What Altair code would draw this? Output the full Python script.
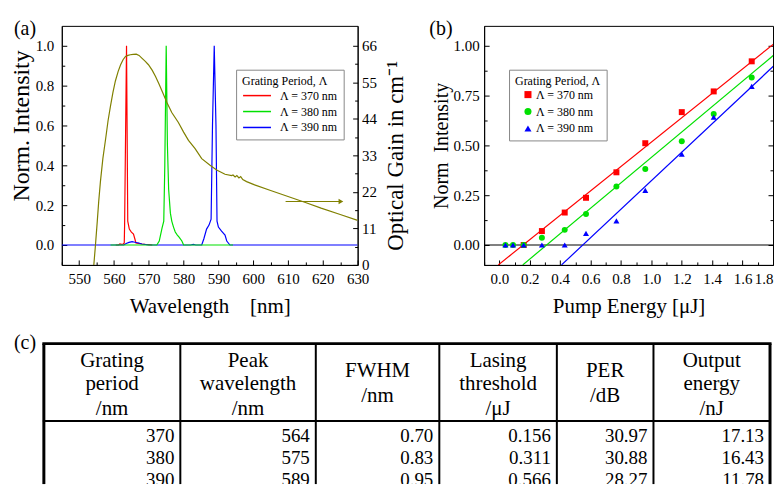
import altair as alt
import pandas as pd

FONT = "Liberation Serif"
PANEL_LABELS = ["(a)", "(b)", "(c)"]
SERIES = ["Λ = 370 nm", "Λ = 380 nm", "Λ = 390 nm"]
LINE_COLORS = ["#ff0000", "#00e000", "#0000ff"]
OLIVE = "#808000"
LEGEND_TITLE = "Grating Period, Λ"

# ---------------- panel (a): emission spectra (normalised) ----------------
red_wl = [560.5, 561.3, 561.7, 562.2, 562.6, 562.95, 563.05, 563.6, 563.95, 564.4,
          565.0, 565.6, 566.0, 566.3, 567.0, 568.0, 569.0, 570.0, 571.0]
red_int = [0, 0, 0.006, 0.003, 0.004, 0.01, 0.1, 1.0, 0.12, 0.08,
           0.065, 0.055, 0.03, 0.01, 0.008, 0.005, 0.003, 0.002, 0]

green_wl = [559, 572.3, 573.0, 573.8, 574.3, 574.6, 575.0, 575.35, 575.7, 576.2,
            576.6, 577.1, 577.6, 578.2, 578.7, 579.5, 580.0, 594.2]
green_int = [0, 0, 0.02, 0.085, 0.12, 0.4, 1.0, 0.5, 0.28, 0.16,
             0.12, 0.09, 0.065, 0.05, 0.04, 0.02, 0, 0]

blue_wl = [545, 562.8, 563.5, 564.3, 565.2, 566.0, 567.1, 568.0, 570.0, 582.0,
           582.8, 583.5, 585.2, 585.8, 586.6, 587.3, 587.9, 588.3, 588.8, 589.3,
           589.6, 590.0, 590.9, 591.9, 592.4, 593.3, 630]
blue_int = [0, 0, 0.008, 0.013, 0.017, 0.014, 0.01, 0.005, 0, 0,
            0.003, 0, 0, 0.03, 0.08, 0.1, 0.13, 0.6, 1.0, 0.6,
            0.12, 0.09, 0.07, 0.05, 0.02, 0, 0]

# optical gain (cm^-1), right axis
gain_wl = [554.2, 554.6, 555.2, 555.6, 556.1, 556.8, 557.6, 558.3, 559.0, 559.7,
           560.4, 561.2, 561.9, 562.6, 563.3, 564.0, 564.7, 565.5, 566.4, 567.2,
           568.0, 569.0, 569.9, 571.0, 571.9, 572.9, 573.8, 575.2, 576.6, 578.5,
           580.0, 581.4, 583.3, 585.2, 587.6, 589.5, 591.9, 593.8, 594.2, 594.8,
           595.3, 595.9, 596.4, 597.0, 598.1, 600.4, 605.0, 610.0, 615.0, 619.5,
           625.0, 630.0]
gain_val = [0, 5, 13.2, 19, 25.1, 32, 38, 43.5, 47.9, 52,
            55.4, 58.3, 60.3, 61.8, 62.8, 63.1, 63.3, 63.4, 63.5, 63.1,
            62.3, 61.3, 60.3, 58.6, 56.8, 54.6, 52.4, 48.9, 45.9, 42.9,
            40.0, 37.5, 35.0, 32.0, 30.0, 28.6, 27.3, 26.9, 27.1, 26.5,
            26.9, 26.2, 26.6, 25.7, 25.1, 24.1, 22.4, 20.6, 18.8, 17.1,
            15.2, 13.4]
arrow_wl = [609.3, 625.2]
arrow_gain = [19.1, 19.1]

# ---------------- panel (b): output vs pump energy ----------------
pump_red = [0.16, 0.28, 0.43, 0.57, 0.77, 0.96, 1.2, 1.41, 1.66]
int_red = [0.0, 0.07, 0.163, 0.237, 0.365, 0.511, 0.667, 0.771, 0.922]
pump_green = [0.04, 0.09, 0.16, 0.28, 0.43, 0.57, 0.77, 0.96, 1.2, 1.41, 1.66]
int_green = [0, 0, 0, 0.036, 0.076, 0.156, 0.294, 0.381, 0.521, 0.658, 0.841]
pump_blue = [0.04, 0.09, 0.16, 0.28, 0.43, 0.57, 0.77, 0.96, 1.2, 1.41, 1.66]
int_blue = [0, 0, 0, 0, 0, 0.058, 0.121, 0.274, 0.456, 0.642, 0.796]
fit_red_x, fit_red_y = [-0.007, 1.9], [-0.1, 1.068]
fit_green_x, fit_green_y = [0.154, 1.9], [-0.1, 1.014]
fit_blue_x, fit_blue_y = [0.409, 1.9], [-0.1, 0.967]

# ---------------- panel (c): table ----------------
header_lines = [["Grating", "period", "/nm"],
                ["Peak", "wavelength", "/nm"],
                ["FWHM", "/nm"],
                ["Lasing", "threshold", "/μJ"],
                ["PER", "/dB"],
                ["Output", "energy", "/nJ"]]
col_period = ["370", "380", "390"]
col_peak = ["564", "575", "589"]
col_fwhm = ["0.70", "0.83", "0.95"]
col_thresh = ["0.156", "0.311", "0.566"]
col_per = ["30.97", "30.88", "28.27"]
col_out = ["17.13", "16.43", "11.78"]

# ---------------- layout constants ----------------
W_A, H_A = 297, 240
W_B, H_B = 290, 240
W_T, H_T = 711, 152
COL_EDGES = [-18, 119, 255, 379, 497, 594, 711]   # relative to panel (a) plot left
TOP_Y, SEP_Y = 11, 88.7
ROW_Y = [104, 126, 148]
HEAD3_Y = [28, 51.7, 77]
HEAD2_Y = [38.3, 63.3]

one = pd.DataFrame({"x": [0.5], "y": [0.5], "g": [10.0], "wl": [580.0]})

# =============== panel (a) ===============
xa = alt.Scale(domain=[545, 630], nice=False, zero=False)
ya = alt.Scale(domain=[-0.1, 1.1], nice=False, zero=False)
yg = alt.Scale(domain=[0, 72], nice=False, zero=False)
color_a = alt.Scale(domain=SERIES, range=LINE_COLORS)

legend_a = alt.Legend(orient="none", legendX=175, legendY=44, title=LEGEND_TITLE,
                      titleFontSize=12, titleFontWeight="normal", labelFontSize=12,
                      titleFont=FONT, labelFont=FONT,
                      symbolType="M-2,0H2", symbolSize=196, symbolOffset=7,
                      labelOffset=15, symbolStrokeWidth=1.5, strokeColor="#888888",
                      fillColor="white", padding=6, rowPadding=2, titlePadding=0,
                      labelColor="black", titleColor="black")

AX = dict(labelFont=FONT, titleFont=FONT, labelColor="black", titleColor="black",
          titleFontWeight="normal", labelFontSize=15, labelOverlap=False)

x_axis_a = alt.Axis(orient="bottom", values=list(range(550, 631, 10)),
                    title="Wavelength\u00a0\u00a0\u00a0\u00a0[nm]", ticks=False, tickSize=0,
                    labelPadding=7, titlePadding=9, titleFontSize=21,
                    labelFlush=False, **AX)
y_axis_a = alt.Axis(orient="left", values=[0, 0.2, 0.4, 0.6, 0.8, 1.0], format=".1f",
                    ticks=False, tickSize=0, labelPadding=8, title="Norm. Intensity",
                    titleFontSize=24, titlePadding=2, titleY=100, **AX)
g_axis_a = alt.Axis(orient="right", values=[0, 11, 22, 33, 44, 55, 66], ticks=False,
                    tickSize=0, labelPadding=4, title="Optical Gain in cm⁻¹",
                    titleAngle=270, titleBaseline="top", titleFontSize=23,
                    titlePadding=8, titleY=130, **AX)


def spectrum(wl, it, name, first):
    df = pd.DataFrame({"wl": wl, "i": it, "series": name})
    return alt.Chart(df).mark_line(strokeWidth=1.2, clip=True).encode(
        x=alt.X("wl:Q", scale=xa, axis=x_axis_a if first else None),
        y=alt.Y("i:Q", scale=ya, axis=y_axis_a if first else None),
        color=alt.Color("series:N", scale=color_a, legend=legend_a if first else None),
    )


spec_red = spectrum(red_wl, red_int, SERIES[0], True)
spec_blue = spectrum(blue_wl, blue_int, SERIES[2], False)
spec_green = spectrum(green_wl, green_int, SERIES[1], False)

gain = alt.Chart(pd.DataFrame({"wl": gain_wl, "g": gain_val})).mark_line(
    color=OLIVE, strokeWidth=1.2, clip=True).encode(
    x=alt.X("wl:Q", scale=xa, axis=None),
    y=alt.Y("g:Q", scale=yg, axis=g_axis_a))

arrow_df = pd.DataFrame({"wl": arrow_wl, "g": arrow_gain})
arrow_line = alt.Chart(arrow_df).mark_line(color=OLIVE, strokeWidth=1.2).encode(
    x=alt.X("wl:Q", scale=xa, axis=None), y=alt.Y("g:Q", scale=yg, axis=None))
arrow_head = alt.Chart(arrow_df.iloc[[1]]).mark_point(
    shape="triangle-right", filled=True, size=30, color=OLIVE, opacity=1).encode(
    x=alt.X("wl:Q", scale=xa, axis=None), y=alt.Y("g:Q", scale=yg, axis=None))


def tick_axis(orient, offset, values, size):
    return alt.Axis(orient=orient, offset=offset, values=values, labels=False,
                    domain=False, ticks=True, tickSize=size, tickWidth=1,
                    tickColor="black", title=None)


def tick_layer(xenc, yenc):
    return alt.Chart(one).mark_point(opacity=0).encode(x=xenc, y=yenc)


ta1 = tick_layer(
    alt.X("wl:Q", scale=xa, axis=tick_axis("top", -H_A, list(range(550, 631, 10)), 5)),
    alt.Y("y:Q", scale=ya, axis=tick_axis("right", -W_A, [0, 0.2, 0.4, 0.6, 0.8, 1.0], 5)))
ta2 = tick_layer(
    alt.X("wl:Q", scale=xa, axis=tick_axis("top", -H_A, list(range(545, 630, 10)), 3)),
    alt.Y("y:Q", scale=ya, axis=tick_axis("right", -W_A, [0.1, 0.3, 0.5, 0.7, 0.9], 3)))
ta3 = tick_layer(
    alt.X("wl:Q", scale=xa, axis=None),
    alt.Y("g:Q", scale=yg, axis=tick_axis("left", -W_A, [0, 11, 22, 33, 44, 55, 66], 5)))
ta4 = tick_layer(
    alt.X("wl:Q", scale=xa, axis=None),
    alt.Y("g:Q", scale=yg, axis=tick_axis("left", -W_A, [5.5, 16.5, 27.5, 38.5, 49.5, 60.5], 3)))

label_a = alt.Chart(pd.DataFrame({"t": [PANEL_LABELS[0]]})).mark_text(
    align="left", baseline="top", fontSize=20, font=FONT, color="black").encode(
    text="t:N", x=alt.value(-48), y=alt.value(-7))

panel_a = alt.layer(
    spec_red, spec_blue, spec_green, gain, arrow_line, arrow_head, ta1, ta2, ta3, ta4, label_a
).resolve_scale(y="independent").resolve_axis(x="independent", y="independent").properties(
    width=W_A, height=H_A, view=alt.ViewBackground(stroke="black", strokeWidth=1))

# =============== panel (b) ===============
xb = alt.Scale(domain=[-0.1, 1.8], nice=False, zero=False)
yb = alt.Scale(domain=[-0.1, 1.1], nice=False, zero=False)
color_b = alt.Scale(domain=SERIES, range=LINE_COLORS)
shape_b = alt.Scale(domain=SERIES, range=["square", "circle", "triangle-up"])

legend_b = alt.Legend(orient="none", legendX=25, legendY=44, title=LEGEND_TITLE,
                      titleFontSize=12, titleFontWeight="normal", labelFontSize=12,
                      titleFont=FONT, labelFont=FONT,
                      symbolSize=50, symbolOffset=7, labelOffset=2, strokeColor="#888888",
                      fillColor="white", padding=6, rowPadding=5, titlePadding=1,
                      labelColor="black", titleColor="black")

x_axis_b = alt.Axis(orient="bottom", values=[0, 0.2, 0.4, 0.6, 0.8, 1.0, 1.2, 1.4, 1.6, 1.8],
                    format=".1f", title="Pump Energy [μJ]", ticks=False, tickSize=0,
                    labelPadding=7, titlePadding=9, titleFontSize=21,
                    labelFlush=True, **AX)
y_axis_b = alt.Axis(orient="left", values=[0, 0.25, 0.5, 0.75, 1.0], format=".2f",
                    ticks=False, tickSize=0, labelPadding=5, title="Norm\u00a0\u00a0Intensity",
                    titleFontSize=20, titlePadding=2, **AX)

pts = pd.concat([
    pd.DataFrame({"e": pump_red, "v": int_red, "series": SERIES[0]}),
    pd.DataFrame({"e": pump_green, "v": int_green, "series": SERIES[1]}),
    pd.DataFrame({"e": pump_blue, "v": int_blue, "series": SERIES[2]}),
], ignore_index=True)

zero_rule = alt.Chart(pd.DataFrame({"v": [0.0]})).mark_rule(color="black", strokeWidth=1).encode(
    y=alt.Y("v:Q", scale=yb, axis=None))


def fit_layer(xs, ys, colour):
    return alt.Chart(pd.DataFrame({"e": xs, "v": ys})).mark_line(
        strokeWidth=1.2, clip=True, color=colour).encode(
        x=alt.X("e:Q", scale=xb, axis=None), y=alt.Y("v:Q", scale=yb, axis=None))


fit_r = fit_layer(fit_red_x, fit_red_y, LINE_COLORS[0])
fit_g = fit_layer(fit_green_x, fit_green_y, LINE_COLORS[1])
fit_bl = fit_layer(fit_blue_x, fit_blue_y, LINE_COLORS[2])

points = alt.Chart(pts).mark_point(filled=True, size=36, opacity=1).encode(
    x=alt.X("e:Q", scale=xb, axis=x_axis_b),
    y=alt.Y("v:Q", scale=yb, axis=y_axis_b),
    color=alt.Color("series:N", scale=color_b, legend=legend_b),
    shape=alt.Shape("series:N", scale=shape_b, legend=legend_b))

YB_MAJ = [0, 0.25, 0.5, 0.75, 1.0]
YB_MIN = [0.125, 0.375, 0.625, 0.875]
tb1 = tick_layer(
    alt.X("x:Q", scale=xb, axis=tick_axis("top", -H_B, [0, 0.2, 0.4, 0.6, 0.8, 1.0, 1.2, 1.4, 1.6, 1.8], 5)),
    alt.Y("y:Q", scale=yb, axis=tick_axis("right", -W_B, YB_MAJ, 5)))
tb2 = tick_layer(
    alt.X("x:Q", scale=xb, axis=tick_axis("top", -H_B, [-0.1, 0.1, 0.3, 0.5, 0.7, 0.9, 1.1, 1.3, 1.5, 1.7], 3)),
    alt.Y("y:Q", scale=yb, axis=tick_axis("left", -W_B, YB_MAJ, 5)))
tb3 = tick_layer(
    alt.X("x:Q", scale=xb, axis=None),
    alt.Y("y:Q", scale=yb, axis=tick_axis("right", -W_B, YB_MIN, 3)))
tb4 = tick_layer(
    alt.X("x:Q", scale=xb, axis=None),
    alt.Y("y:Q", scale=yb, axis=tick_axis("left", -W_B, YB_MIN, 3)))

label_b = alt.Chart(pd.DataFrame({"t": [PANEL_LABELS[1]]})).mark_text(
    align="left", baseline="top", fontSize=20, font=FONT, color="black").encode(
    text="t:N", x=alt.value(-55), y=alt.value(-7))

panel_b = alt.layer(zero_rule, fit_r, fit_g, fit_bl, points, tb1, tb2, tb3, tb4, label_b
                    ).resolve_axis(x="independent", y="independent").properties(
    width=W_B, height=H_B, view=alt.ViewBackground(stroke="black", strokeWidth=1))

# =============== panel (c): table ===============
tx = alt.Scale(domain=[0, W_T], nice=False, zero=False)
ty = alt.Scale(domain=[0, H_T], nice=False, zero=False, reverse=True)

vlines = pd.DataFrame({"x": COL_EDGES, "y1": TOP_Y, "y2": H_T,
                       "w": [3, 2, 2, 2, 2, 2, 3]})
hlines = pd.DataFrame({"x1": COL_EDGES[0], "x2": COL_EDGES[-1], "y": [TOP_Y, SEP_Y], "w": [3, 2]})

head_rows = []
for ci, lines in enumerate(header_lines):
    cx = (COL_EDGES[ci] + COL_EDGES[ci + 1]) / 2
    ys = HEAD3_Y if len(lines) == 3 else HEAD2_Y
    for t, yv in zip(lines, ys):
        head_rows.append({"x": cx, "y": yv, "t": t})
head_df = pd.DataFrame(head_rows)

cell_rows = []
columns = [col_period, col_peak, col_fwhm, col_thresh, col_per, col_out]
for ci, col in enumerate(columns):
    rx = COL_EDGES[ci + 1] - 6
    for t, yv in zip(col, ROW_Y):
        cell_rows.append({"x": rx, "y": yv, "t": t})
cell_df = pd.DataFrame(cell_rows)

t_v = alt.Chart(vlines).mark_rule(color="black", strokeCap="butt").encode(
    x=alt.X("x:Q", scale=tx, axis=None), y=alt.Y("y1:Q", scale=ty, axis=None), y2="y2:Q",
    size=alt.Size("w:Q", scale=None, legend=None))
t_h = alt.Chart(hlines).mark_rule(color="black", strokeCap="square").encode(
    x=alt.X("x1:Q", scale=tx, axis=None), x2="x2:Q", y=alt.Y("y:Q", scale=ty, axis=None),
    size=alt.Size("w:Q", scale=None, legend=None))
t_head = alt.Chart(head_df).mark_text(font=FONT, fontSize=21, align="center",
                                      baseline="middle", color="black").encode(
    x=alt.X("x:Q", scale=tx, axis=None), y=alt.Y("y:Q", scale=ty, axis=None), text="t:N")
t_cell = alt.Chart(cell_df).mark_text(font=FONT, fontSize=19, align="right",
                                      baseline="middle", color="black", clip=True).encode(
    x=alt.X("x:Q", scale=tx, axis=None), y=alt.Y("y:Q", scale=ty, axis=None), text="t:N")
label_c = alt.Chart(pd.DataFrame({"t": [PANEL_LABELS[2]]})).mark_text(
    align="left", baseline="top", fontSize=20, font=FONT, color="black").encode(
    text="t:N", x=alt.value(-48), y=alt.value(0))

table = alt.layer(t_v, t_h, t_head, t_cell, label_c).properties(
    width=W_T, height=H_T, view=alt.ViewBackground(stroke="transparent"))

# =============== assemble ===============
top = alt.hconcat(panel_a, panel_b, spacing=20).resolve_scale(
    color="independent", shape="independent").resolve_legend(
    color="independent", shape="independent")

GUIDE_STYLE = {"guide-label": {"font": FONT, "fill": "black"},
               "guide-title": {"font": FONT, "fill": "black", "fontWeight": "normal"}}

chart = alt.vconcat(top, table, spacing=14).properties(
    padding={"left": 0, "top": 9, "right": 0, "bottom": 0}
).configure(font=FONT, style=GUIDE_STYLE).configure_view(stroke="transparent").configure_axis(
    grid=False, labelFont=FONT, titleFont=FONT, labelColor="black", titleColor="black",
    domainColor="black", tickColor="black", titleFontWeight="normal", domainWidth=1
).configure_legend(labelFont=FONT, titleFont=FONT).configure_text(font=FONT)

chart.save("out.html", embed_options={"renderer": "svg", "actions": False})
